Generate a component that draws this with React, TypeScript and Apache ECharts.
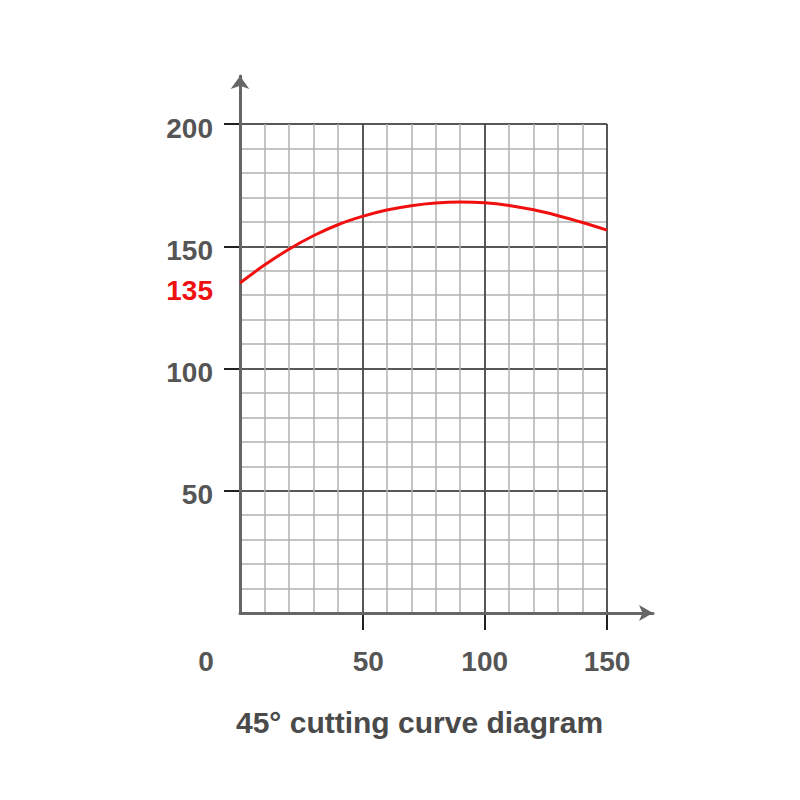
import React, { useEffect, useRef } from "react";
import * as echarts from "echarts";

const xValues = [0, 10, 20, 30, 40, 50, 60, 70, 80, 90, 100, 110, 120, 130, 140, 150];
const cutValues = [135, 142.3, 148.8, 154.3, 158.8, 162.2, 164.8, 166.6, 167.7, 168.1, 167.8, 166.7, 164.9, 162.5, 159.7, 156.6];
const xTickLabels = [0, 50, 100, 150];
const yTickLabels = [50, 100, 135, 150, 200];
const titleText = "45° cutting curve diagram";

const FONT = "'Liberation Sans', Arial, sans-serif";

export default function App() {
  const ref = useRef<HTMLDivElement>(null);
  useEffect(() => {
    if (!ref.current) return;
    const chart = echarts.init(ref.current, null, { renderer: "svg" });
    const minorColor = "#b0b0b0";
    const majorColor = "#333";
    const labelBase = { fontSize: 28, fontWeight: "bold", color: "#555", fontFamily: FONT };
    chart.setOption({
      animation: false,
      backgroundColor: "#fff",
      title: {
        text: titleText,
        left: 231,
        top: 702,
        textStyle: { fontSize: 30, fontWeight: "bold", color: "#4a4a4a", fontFamily: FONT },
      },
      grid: [
        { left: 240, top: 124, right: 193, bottom: 187 },
        { left: 240, top: 76, right: 147, bottom: 187 },
      ],
      xAxis: [
        {
          gridIndex: 0, type: "value", min: 0, max: 150, interval: 10, position: "bottom",
          axisLine: { show: false }, axisTick: { show: false }, axisLabel: { show: false },
          splitLine: { show: true, lineStyle: { color: minorColor, width: 1.5 } },
        },
        {
          gridIndex: 0, type: "value", min: 0, max: 150, interval: 50, position: "bottom",
          axisLine: { show: false },
          axisTick: { show: true, customValues: [50, 100, 150], length: 17, lineStyle: { color: "#222", width: 2 } },
          axisLabel: {
            show: true, customValues: xTickLabels, margin: 34,
            formatter: (v: number) => (v === 0 ? "{z|0}" : v === 50 ? "{f|50}" : "{a|" + v + "}"),
            rich: {
              a: { ...labelBase },
              z: { ...labelBase, padding: [0, 68, 0, 0] },
              f: { ...labelBase, padding: [0, 0, 0, 12] },
            },
          },
          splitLine: { show: true, lineStyle: { color: [majorColor, majorColor, majorColor, "#000"], width: 1.5 } },
        },
        {
          gridIndex: 1, type: "value", min: 0, max: 1, position: "bottom", z: 5,
          axisLine: { show: true, symbol: ["none", "arrow"], symbolSize: [12, 14], lineStyle: { color: "#666", width: 3 } },
          axisTick: { show: false }, axisLabel: { show: false }, splitLine: { show: false },
        },
      ],
      yAxis: [
        {
          gridIndex: 0, type: "value", min: 0, max: 200, interval: 10, position: "left",
          axisLine: { show: false }, axisTick: { show: false }, axisLabel: { show: false },
          splitLine: { show: true, lineStyle: { color: minorColor, width: 1.5 } },
        },
        {
          gridIndex: 0, type: "value", min: 0, max: 200, interval: 50, position: "left",
          axisLine: { show: false },
          axisTick: { show: true, customValues: [50, 100, 150, 200], length: 16, lineStyle: { color: "#222", width: 2 } },
          axisLabel: {
            show: true, customValues: yTickLabels, margin: 27,
            formatter: (v: number) => (v === 135 ? "{r|135}" : "{a|" + v + "}"),
            rich: {
              a: { ...labelBase, padding: [8, 0, 0, 0] },
              r: { ...labelBase, color: "#ee1111", padding: [16, 0, 0, 0] },
            },
          },
          splitLine: { show: true, lineStyle: { color: [majorColor, majorColor, majorColor, majorColor, "#000"], width: 1.5 } },
        },
        {
          gridIndex: 1, type: "value", min: 0, max: 1, position: "left", z: 5,
          axisLine: { show: true, symbol: ["none", "arrow"], symbolSize: [14, 13], lineStyle: { color: "#666", width: 3 } },
          axisTick: { show: false }, axisLabel: { show: false }, splitLine: { show: false },
        },
      ],
      series: [
        {
          type: "line",
          xAxisIndex: 0,
          yAxisIndex: 0,
          data: xValues.map((x, i) => [x, cutValues[i]]),
          smooth: 0.3,
          showSymbol: false,
          lineStyle: { color: "#f01010", width: 3 },
          z: 10,
        },
      ],
    });
    return () => chart.dispose();
  }, []);
  return <div ref={ref} style={{ position: "fixed", left: 0, top: 0, width: 800, height: 800 }} />;
}
